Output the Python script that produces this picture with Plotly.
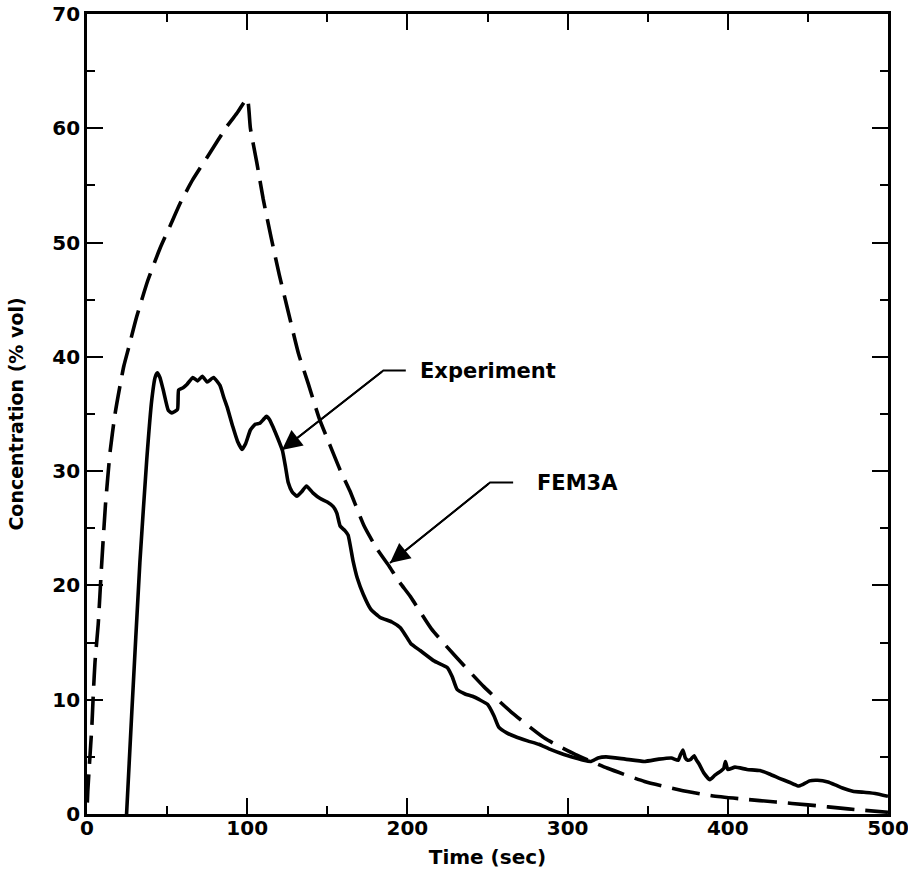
import plotly.graph_objects as go

# FEM3A model prediction (time in s, concentration in % vol)
fem_t = [0.2, 0.5, 1.5, 3, 4, 5, 7, 9, 11.5, 14.5, 17.5, 20.5, 23, 26, 31, 38,
         45.6, 52, 58, 66, 77, 87, 94, 100, 102, 106, 110, 115, 120, 125, 132,
         138, 145, 151, 158, 164, 173, 181, 189, 195, 202, 215, 230, 248, 265,
         286, 305, 325, 348, 370, 390, 410, 430, 450, 475, 500]
fem_c = [1.0, 2.0, 4.3, 7.6, 10.7, 13.3, 16.6, 21.5, 27, 31.8, 35, 37.4, 39.2,
         40.8, 43.5, 46.7, 49.5, 51.5, 53.4, 55.5, 57.9, 60.1, 61.4, 62.6, 60,
         57, 53.8, 50.4, 47.2, 44.3, 40.3, 37.7, 34.6, 32.5, 30.1, 28.3, 25.2,
         23.2, 21.6, 20.3, 19.0, 16.2, 13.8, 11.1, 8.9, 6.6, 5.2, 4.0, 2.85, 2.1,
         1.6, 1.3, 1.05, 0.8, 0.45, 0.15]

# Measured concentration
exp_t = [24.7, 28, 33, 37.3, 40.4, 42.5, 43.9, 45.5, 47.6, 50.8, 53, 56.5, 57.2,
         60, 62.5, 66, 69, 72, 75, 79, 83, 85.5,
         87.5, 91, 94, 96.8, 99, 102, 105, 108, 110, 112, 114, 116, 119, 122,
         124, 125.6, 128, 131, 134, 137, 141, 145.6, 150, 153.7, 156, 158, 161,
         163, 166, 168.8, 172.5, 177.2, 183, 190.3, 195.6, 199, 202.2, 208,
         216.6, 225, 228, 231, 236, 240.6, 245, 250, 254, 257, 262, 266.8, 275,
         282, 288.4, 296, 305, 310, 314.6, 319, 324, 336, 348, 357, 364.8, 369,
         370.5, 372, 373.5, 375, 377, 379, 380.5, 382, 385, 388.8, 392, 396,
         397.5, 398.5, 400, 404.5, 412, 420, 426, 432.6, 438, 443.8, 447, 451,
         456, 462.5, 467, 472, 478, 485, 492, 500]
exp_c = [0, 9, 22, 31, 36.2, 38.2, 38.6, 38.2, 37.1, 35.3, 35.1, 35.4, 37.1,
         37.3, 37.6, 38.2, 37.9, 38.3, 37.8, 38.2,
         37.5, 36.4, 35.6, 33.9, 32.6, 31.9, 32.4, 33.6, 34.1, 34.2, 34.5,
         34.8, 34.5, 33.9, 32.9, 31.8, 30.3, 29.0, 28.2, 27.8, 28.2, 28.7, 28.1,
         27.6, 27.3, 26.9, 26.3, 25.2, 24.8, 24.4, 22.2, 20.6, 19.2, 17.9, 17.2,
         16.8, 16.3, 15.6, 14.9, 14.3, 13.4, 12.8, 12.0, 10.9, 10.5, 10.3, 10.0,
         9.6, 8.6, 7.6, 7.1, 6.8, 6.4, 6.1, 5.7, 5.3, 4.9, 4.7, 4.6, 4.9, 5.0,
         4.8, 4.6, 4.8, 4.9, 4.7, 5.2, 5.6, 4.9, 4.7, 4.8, 5.1, 4.7, 4.4, 3.6,
         3.0, 3.4, 3.8, 4.0, 4.6, 3.9, 4.1, 3.9, 3.8, 3.5, 3.1, 2.8, 2.45, 2.6,
         2.9, 2.95, 2.8, 2.55, 2.25, 2.0, 1.9, 1.8, 1.55]

x_ticks = [0, 100, 200, 300, 400, 500]
y_ticks = [0, 10, 20, 30, 40, 50, 60, 70]

FONT = "DejaVu Sans"

fig = go.Figure()
fig.add_trace(go.Scatter(
    x=fem_t, y=fem_c, mode="lines", name="FEM3A",
    line=dict(color="black", width=3.6, dash="28px,11px", shape="spline", smoothing=0.5),
))
fig.add_trace(go.Scatter(
    x=exp_t, y=exp_c, mode="lines", name="Experiment",
    line=dict(color="black", width=3.6, shape="spline", smoothing=0.4),
))

# Leader lines with arrows pointing to each curve
labels = [
    # text, text x, text y, elbow x, elbow y, shoulder end x, arrow tip x, arrow tip y
    ("Experiment", 206.6, 38.75, 185.0, 38.8, 199.0, 121.7, 31.85),
    ("FEM3A", 279.6, 29.0, 251.6, 29.0, 266.0, 189.1, 21.96),
]
for text, tx, ty, ex, ey, sx, ax_tip, ay_tip in labels:
    fig.add_shape(type="path",
                  path=f"M {sx},{ey} L {ex},{ey} L {ax_tip},{ay_tip}",
                  xref="x", yref="y", line=dict(color="black", width=2))
    fig.add_annotation(x=ax_tip, y=ay_tip, ax=ex, ay=ey, axref="x", ayref="y",
                       xref="x", yref="y", text="", showarrow=True,
                       arrowhead=2, arrowsize=2.2, arrowwidth=1.8, arrowcolor="black")
    fig.add_annotation(x=tx, y=ty, xref="x", yref="y", text=text, showarrow=False,
                       xanchor="left", yanchor="middle",
                       font=dict(family=FONT, size=21, color="black", weight="bold"))

axis_common = dict(
    showgrid=False, zeroline=False, showline=True, linecolor="black", linewidth=2.8,
    mirror="allticks", ticks="inside", ticklen=16, tickwidth=2, tickcolor="black",
    tickfont=dict(family=FONT, size=20, color="black", weight="bold"),
    ticklabeloverflow="allow",
)

fig.update_xaxes(
    range=[0, 500], tickvals=x_ticks, ticktext=[str(v) for v in x_ticks],
    minor=dict(dtick=50, ticks="inside", ticklen=8, tickwidth=2, tickcolor="black", showgrid=False),
    title=dict(text="Time (sec)", standoff=12,
               font=dict(family=FONT, size=20, color="black", weight="bold")),
    ticklabelstandoff=-6,
    automargin=False, **axis_common,
)
fig.update_yaxes(
    range=[0, 70], tickvals=y_ticks, ticktext=[str(v) for v in y_ticks],
    minor=dict(dtick=5, ticks="inside", ticklen=8, tickwidth=2, tickcolor="black", showgrid=False),
    title=dict(text="Concentration (% vol)", standoff=24,
               font=dict(family=FONT, size=19, color="black", weight="bold")),
    automargin=False, **axis_common,
)

fig.update_layout(
    width=908, height=879,
    margin=dict(l=87, r=20, t=14, b=65),
    paper_bgcolor="white", plot_bgcolor="white",
    showlegend=False,
)

fig.write_html("out.html")
